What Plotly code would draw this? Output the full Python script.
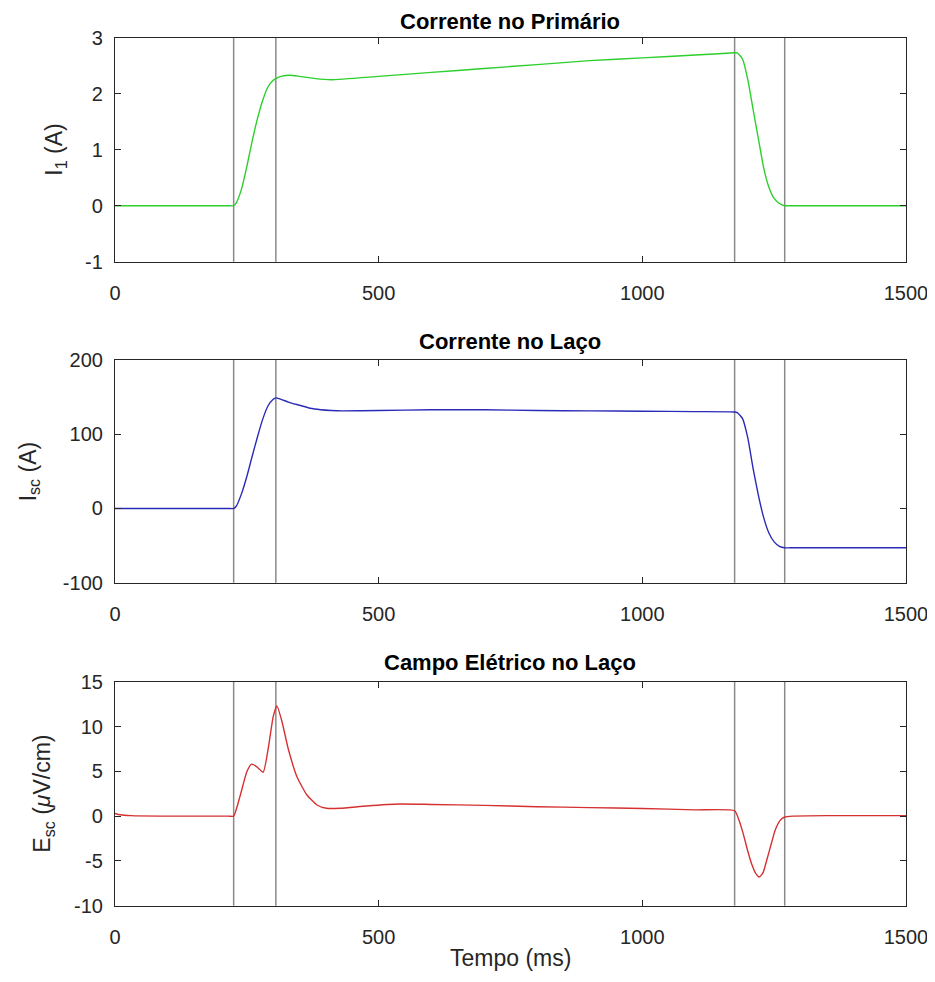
import plotly.graph_objects as go

# ---------------- data ----------------
t_i1 = [0, 100, 200, 215, 225, 230, 240, 250, 260, 270, 280, 290, 300, 305, 315, 332, 350, 380,
        410, 500, 600, 700, 800, 900, 1000, 1100, 1175, 1180, 1190, 1200, 1210, 1220, 1230,
        1240, 1250, 1260, 1270, 1280, 1300, 1400, 1500]
i1 = [0, 0, 0, 0, 0, 0.05, 0.3, 0.7, 1.15, 1.55, 1.88, 2.12, 2.24, 2.27, 2.31, 2.33, 2.31, 2.27,
      2.25, 2.31, 2.38, 2.45, 2.52, 2.59, 2.64, 2.69, 2.73, 2.73, 2.62, 2.25, 1.72, 1.2, 0.68,
      0.33, 0.13, 0.04, 0.0, 0.0, 0.0, 0.0, 0.0]

t_isc = [0, 100, 200, 215, 225, 230, 240, 250, 260, 270, 280, 290, 300, 305, 315, 330, 350, 370,
         390, 410, 430, 500, 600, 700, 800, 900, 1000, 1100, 1175, 1180, 1190, 1200, 1210, 1220,
         1230, 1240, 1250, 1260, 1270, 1280, 1300, 1400, 1500]
isc = [0, 0, 0, 0, 0, 3, 20, 43, 70, 96, 120, 138, 147, 149, 147, 143, 139, 135,
       133, 132, 131.5, 132, 133, 133, 132, 131.5, 131, 130.5, 130, 129, 121, 95, 54, 18,
       -12, -33, -45, -51, -53, -53, -53, -53, -53]

t_esc = [0, 10, 30, 100, 200, 215, 225, 237, 250, 259, 269, 281, 291, 300, 307, 316, 329, 345,
         364, 383, 401, 427, 477, 540, 600, 700, 800, 900, 1000, 1100, 1175, 1183, 1191,
         1199, 1207, 1215, 1222, 1229, 1236, 1244, 1252, 1261, 1270, 1285, 1350, 1500]
esc = [0.3, 0.15, 0.05, 0.0, 0.0, 0.0, 0.0, 2.2, 4.95, 5.8, 5.5, 4.9, 7.7, 11.1, 12.3, 10.7, 7.4,
       4.4, 2.35, 1.24, 0.87, 0.87, 1.13, 1.35, 1.3, 1.2, 1.05, 0.95, 0.85, 0.7, 0.6, -0.4, -1.9,
       -3.7, -5.3, -6.4, -6.8, -6.3, -4.9, -3.2, -1.55, -0.5, -0.1, 0.0, 0.05, 0.05]

marker_times = [225, 305, 1175, 1270]

titles = ["Corrente no Primário", "Corrente no Laço", "Campo Elétrico no Laço"]
ylabels = ["I<sub>1</sub> (A)", "I<sub>sc</sub> (A)", "E<sub>sc</sub> (<i>μ</i>V/cm)"]
xlabel = "Tempo (ms)"
y_ranges = [[-1, 3], [-100, 200], [-10, 15]]
y_tickvals = [[-1, 0, 1, 2, 3], [-100, 0, 100, 200], [-10, -5, 0, 5, 10, 15]]
y_ticktext = [["-1", "0", "1", "2", "3"], ["-100", "0", "100", "200"],
              ["-10", "-5", "0", "5", "10", "15"]]
x_ticks = [0, 500, 1000, 1500]
x_ticktext = ["0", "500", "1000", "1500"]

colors = ["#2ccf2c", "#2a2ab8", "#d63030"]

# ---------------- layout geometry ----------------
# page body has an 8px margin: figure is drawn 8px in from the top-left corner
OFF = 8
W, H = 927, 982 - 2 * OFF
x_dom = [(115 - OFF) / W, (906 - OFF) / W]
tops = [37.7 - OFF, 360 - OFF, 681.7 - OFF]
bots = [261.7 - OFF, 582.7 - OFF, 905.7 - OFF]
title_y = [21 - OFF, 341 - OFF, 662 - OFF]
ylab_x = [56 - OFF, 29 - OFF, 44 - OFF]
xlab_y = 958 - OFF

AX = "#262626"
FONT = "Liberation Sans, Arial, Helvetica, sans-serif"

fig = go.Figure()
series = [(t_i1, i1), (t_isc, isc), (t_esc, esc)]

layout = dict(
    width=W, height=H, margin=dict(l=0, r=0, t=0, b=0, autoexpand=False),
    paper_bgcolor="white", plot_bgcolor="white", showlegend=False,
    font=dict(family=FONT, color=AX),
)
annotations = []
shapes = []

for k in range(3):
    xa = "x" if k == 0 else f"x{k+1}"
    ya = "y" if k == 0 else f"y{k+1}"
    t, v = series[k]
    fig.add_trace(go.Scatter(x=t, y=v, mode="lines", xaxis=xa, yaxis=ya,
                             line=dict(color=colors[k], width=1.4, shape="spline",
                                       smoothing=0.5),
                             hoverinfo="skip"))
    common = dict(showline=True, linecolor=AX, linewidth=1.2, mirror="ticks",
                  ticks="inside", ticklen=6, tickwidth=1, tickcolor=AX,
                  showgrid=False, zeroline=False, automargin=False,
                  ticklabeloverflow="allow",
                  tickfont=dict(size=20, color=AX, family=FONT))
    layout["xaxis" if k == 0 else f"xaxis{k+1}"] = dict(
        domain=x_dom, range=[0, 1500], tickvals=x_ticks, ticktext=x_ticktext, anchor=ya,
        ticklabelstandoff=13, **common)
    y0 = 1 - bots[k] / H
    y1 = 1 - tops[k] / H
    layout["yaxis" if k == 0 else f"yaxis{k+1}"] = dict(
        domain=[y0, y1], range=y_ranges[k], tickvals=y_tickvals[k], ticktext=y_ticktext[k],
        anchor=xa, ticklabelstandoff=7, **common)
    annotations.append(dict(text="<b>" + titles[k] + "</b>", xref="paper", yref="paper",
                            x=(x_dom[0] + x_dom[1]) / 2, y=1 - title_y[k] / H,
                            xanchor="center", yanchor="middle", showarrow=False,
                            font=dict(size=22, color="black", family=FONT)))
    annotations.append(dict(text=ylabels[k], xref="paper", yref="paper",
                            x=ylab_x[k] / W, y=(y0 + y1) / 2, textangle=-90,
                            xanchor="center", yanchor="middle", showarrow=False,
                            font=dict(size=23, color=AX, family=FONT)))
    for mt in marker_times:
        shapes.append(dict(type="line", xref=xa, yref=f"{ya} domain", x0=mt, x1=mt,
                           y0=0, y1=1, line=dict(color="#8a8a8a", width=1.5), layer="below"))

annotations.append(dict(text=xlabel, xref="paper", yref="paper",
                        x=(x_dom[0] + x_dom[1]) / 2, y=1 - xlab_y / H,
                        xanchor="center", yanchor="middle", showarrow=False,
                        font=dict(size=23, color=AX, family=FONT)))

layout["annotations"] = annotations
layout["shapes"] = shapes
fig.update_layout(**layout)
fig.write_html("out.html")
